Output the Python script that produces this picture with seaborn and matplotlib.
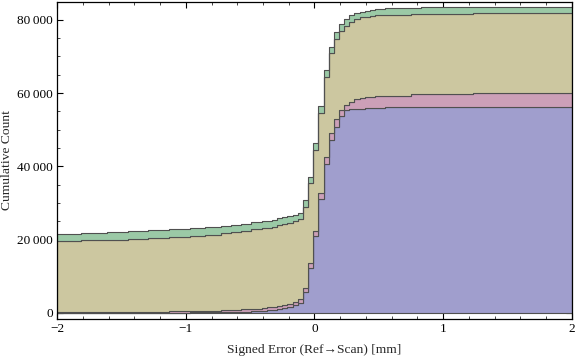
import numpy as np
import pandas as pd
import matplotlib
matplotlib.use("Agg")
import matplotlib.pyplot as plt
import seaborn as sns
from matplotlib.ticker import FuncFormatter, MultipleLocator

# bin edges (mm): wide bins in the tails, 0.04 mm bins around zero
edges = [-2.00, -1.81, -1.61, -1.45, -1.29, -1.13, -0.97, -0.85, -0.73, -0.65,
         -0.57, -0.49, -0.41, -0.37, -0.33, -0.29, -0.25, -0.21, -0.17, -0.13,
         -0.09, -0.05, -0.01, 0.03, 0.07, 0.11, 0.15, 0.19, 0.23, 0.27,
         0.31, 0.35, 0.39, 0.43, 0.47, 0.55, 0.75, 0.83, 1.23, 2.00]

# stacked cumulative heights (top of each layer, per bin)
green_top = [21560, 21830, 22100, 22300, 22570, 22800, 23100, 23380, 23660, 24020,
             24380, 24750, 25020, 25200, 25380, 25840, 26110, 26470, 26740, 27370,
             30840, 37200, 46310, 56490, 66310, 72680, 76600, 78790, 80230, 81320,
             81780, 82220, 82410, 82600, 82870, 83230, 83230, 83500, 83500]
olive_top = [19570, 19840, 20000, 20280, 20550, 20820, 21100, 21400, 21700, 22050,
             22400, 22800, 23100, 23300, 23550, 24020, 24290, 24640, 25190, 25650,
             29010, 35390, 44480, 54580, 64490, 70870, 74770, 77040, 78400, 79500,
             80230, 80690, 80860, 81000, 81240, 81240, 81510, 81510, 81780]
pink_top = [200, 220, 250, 280, 320, 400, 500, 650, 750, 900,
            1000, 1200, 1360, 1500, 1720, 1900, 2250, 2500, 3000, 3700,
            6900, 13560, 22460, 32670, 42490, 49040, 52860, 55400, 56800, 57670,
            58320, 58590, 58860, 59000, 59300, 59300, 59680, 59680, 59950]
blue_top = [40, 50, 60, 80, 100, 120, 150, 190, 200, 300,
            360, 500, 600, 750, 900, 1080, 1450, 1650, 2150, 2700,
            5700, 12200, 21010, 31030, 40660, 47210, 50840, 53760, 55400, 55600,
            55700, 55750, 55800, 55850, 55950, 56130, 56130, 56130, 56130]

layers = ["Green", "Olive", "Pink", "Blue"]  # seaborn stacks first level on top
colors = {"Green": "#9bc9a6", "Olive": "#ccc7a0", "Pink": "#cca0b8", "Blue": "#a09ecd"}

edge_arr = np.array(edges)
centers = (edge_arr[:-1] + edge_arr[1:]) / 2
stack = [("Blue", blue_top, np.zeros(len(blue_top))),
         ("Pink", pink_top, blue_top),
         ("Olive", olive_top, pink_top),
         ("Green", green_top, olive_top)]
frames = []
for name, top, base in stack:
    cum = np.array(top, dtype=float) - np.array(base, dtype=float)
    frames.append(pd.DataFrame({"error": centers,
                                "count": np.diff(cum, prepend=0),
                                "layer": name}))
df = pd.concat(frames, ignore_index=True)

sns.set_style("ticks")
plt.rcParams["font.family"] = ["Liberation Serif", "DejaVu Serif"]
plt.rcParams["font.size"] = 9.5

fig = plt.figure(figsize=(5.76, 3.59), dpi=100)
ax = fig.add_axes([0.099, 0.1114, 0.894, 0.884])

sns.histplot(data=df, x="error", weights="count", hue="layer", hue_order=layers,
             bins=edges, cumulative=True, multiple="stack", element="step",
             palette=colors, alpha=1, edgecolor="#505050", linewidth=0.8,
             legend=False, ax=ax)

ax.set_xlim(-2, 2)
ax.set_ylim(-1650, 84950)
ax.xaxis.set_major_locator(MultipleLocator(1))
ax.xaxis.set_minor_locator(MultipleLocator(0.2))
ax.yaxis.set_major_locator(MultipleLocator(20000))
ax.yaxis.set_minor_locator(MultipleLocator(5000))
ax.yaxis.set_major_formatter(FuncFormatter(lambda v, p: f"{int(v):,}".replace(",", "\u2009")))
ax.tick_params(which="major", direction="in", top=True, right=True, length=4.5,
               width=0.8, pad=3, labelsize=9.5, colors="black")
ax.tick_params(which="minor", direction="in", top=True, right=True, length=2.5, width=0.6)
for s in ax.spines.values():
    s.set_linewidth(0.9)
    s.set_color("black")

ax.set_xlabel("Signed Error (Ref\u2192Scan) [mm]", fontsize=9.7, labelpad=6)
ax.set_ylabel("Cumulative Count", fontsize=9.7, labelpad=3)

fig.savefig("out.png", dpi=100)
